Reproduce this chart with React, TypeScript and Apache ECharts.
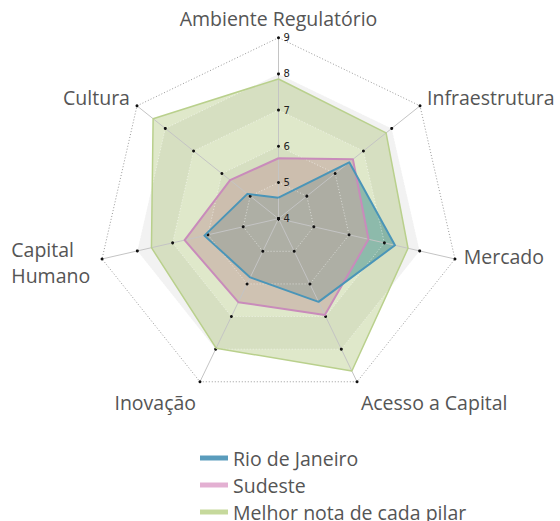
import React, { useEffect, useRef } from 'react';
import * as echarts from 'echarts';

// Axes, listed counter-clockwise from the top (ECharts radar order)
const indicators = ['Ambiente Regulatório', 'Cultura', 'Capital Humano', 'Inovação', 'Acesso a Capital', 'Mercado', 'Infraestrutura'];
const seriesNames = ['Rio de Janeiro', 'Sudeste', 'Melhor nota de cada pilar'];
const rioValues = [4.58, 5.1, 6.1, 5.8, 6.55, 7.3, 6.5];
const sudesteValues = [5.67, 5.71, 6.66, 6.56, 6.95, 6.55, 6.63];
const melhorValues = [7.86, 8.43, 7.6, 7.97, 8.67, 7.67, 7.8];
const axisMin = 4;
const axisMax = 9;
const tickValues = [4, 5, 6, 7, 8, 9];

const FONT = 'Open Sans';
const NAME_SIZE = 19.5;
const legendColors = ['#5a9cbc', '#e3b0d2', '#c6d99c'];
const lineColors = ['#4a95b8', '#c98bbb', '#b9d08c'];
const lineWidths = [2, 2, 1.5];
const fillColors = ['rgba(60,140,140,0.5)', 'rgba(196,169,162,0.6)', 'rgba(150,180,80,0.3)'];
const valuesList = [rioValues, sudesteValues, melhorValues];

const center = [278.5, 218.7];
const radius = 181;

const nameBase = { color: '#555', fontSize: NAME_SIZE, fontFamily: FONT };

export default function App() {
  const ref = useRef<HTMLDivElement>(null);
  useEffect(() => {
    if (!ref.current) return;
    const chart = echarts.init(ref.current, undefined, { renderer: 'svg' });
    const baseIndicator = indicators.map((name) => ({ name, min: axisMin, max: axisMax }));
    const topIndicator = indicators.map((name, i) =>
      i === 0
        ? {
            name,
            min: axisMin,
            max: axisMax,
            axisLabel: {
              show: true,
              align: 'left',
              margin: -5,
              fontSize: 10,
              fontFamily: 'DejaVu Sans',
              color: '#222',
            },
          }
        : { name, min: axisMin, max: axisMax }
    );
    const nameFormatter = (name: string) => {
      if (name === 'Capital Humano') return '{ch1|Capital}\n{ch|Humano}';
      if (name === 'Cultura' || name === 'Infraestrutura') return '{up|' + name + '}';
      if (name === 'Mercado') return '{up2|' + name + '}';
      if (name === 'Inovação' || name === 'Acesso a Capital') return '{down|' + name + '}';
      return name;
    };
    const fillOrder = [2, 0, 1];
    const fillSeries = fillOrder.map((k) => ({
      type: 'radar',
      name: '_fill_' + k,
      radarIndex: 0,
      z: 2,
      symbol: 'none',
      silent: true,
      lineStyle: { width: 0, opacity: 0 },
      areaStyle: { color: fillColors[k], opacity: 1 },
      itemStyle: { color: fillColors[k] },
      data: [{ value: valuesList[k] }],
    }));
    const dotSeries = tickValues.map((t) => ({
      type: 'radar',
      name: '_tick_' + t,
      radarIndex: 0,
      z: 4,
      silent: true,
      symbol: 'circle',
      symbolSize: 3,
      itemStyle: { color: '#111' },
      lineStyle: { width: 0, opacity: 0 },
      data: [{ value: indicators.map(() => t) }],
    }));
    const lineOrder = [2, 1, 0];
    const lineSeries = lineOrder.map((k) => ({
      type: 'radar',
      name: seriesNames[k],
      radarIndex: 0,
      z: 5,
      symbol: 'none',
      silent: true,
      itemStyle: { color: legendColors[k] },
      lineStyle: { color: lineColors[k], width: lineWidths[k] },
      data: [{ value: valuesList[k], name: seriesNames[k] }],
    }));
    chart.setOption({
      animation: false,
      legend: {
        data: seriesNames,
        orient: 'vertical',
        left: 200,
        top: 448,
        height: 120,
        padding: 0,
        icon: 'rect',
        itemWidth: 28,
        itemHeight: 5,
        itemGap: 7,
        selectedMode: false,
        textStyle: { fontSize: 19.5, color: '#555', fontFamily: FONT },
      },
      radar: [
        {
          center,
          radius,
          startAngle: 90,
          splitNumber: 5,
          shape: 'polygon',
          z: 0,
          indicator: baseIndicator,
          axisName: {
            ...nameBase,
            lineHeight: 20,
            formatter: nameFormatter,
            rich: {
              ch1: { ...nameBase, lineHeight: 30, width: 82, align: 'left', padding: [8, 0, 0, 0] },
              ch: { ...nameBase, lineHeight: 30, width: 82, align: 'left' },
              up: { ...nameBase, lineHeight: 20, padding: [0, 0, 6, 0] },
              up2: { ...nameBase, lineHeight: 20, padding: [0, 0, 8, 0] },
              down: { ...nameBase, lineHeight: 20, padding: [26, 0, 0, 0] },
            },
          },
          nameGap: 9,
          splitArea: { show: true, areaStyle: { color: ['#ffffff', '#f2f2f2'] } },
          splitLine: { show: false },
          axisLine: { show: false },
          axisTick: { show: false },
          axisLabel: { show: false },
        },
        {
          center,
          radius,
          startAngle: 90,
          splitNumber: 5,
          shape: 'polygon',
          z: 3,
          indicator: topIndicator,
          axisName: { show: false },
          splitArea: { show: false },
          splitLine: {
            show: true,
            lineStyle: {
              color: [
                'rgba(255,255,255,0.55)',
                'rgba(255,255,255,0.55)',
                'rgba(255,255,255,0.55)',
                'rgba(255,255,255,0.55)',
                'rgba(255,255,255,0.55)',
                '#9a9a9a',
              ],
              width: 1,
              type: [1, 2],
            },
          },
          axisLine: { show: true, lineStyle: { color: '#c4c4c4', width: 1 } },
          axisTick: { show: false },
          axisLabel: { show: false },
        },
      ],
      series: [...fillSeries, ...dotSeries, ...lineSeries],
    });
    return () => chart.dispose();
  }, []);
  return <div ref={ref} style={{ position: 'absolute', left: 0, top: 0, width: 560, height: 521 }} />;
}
